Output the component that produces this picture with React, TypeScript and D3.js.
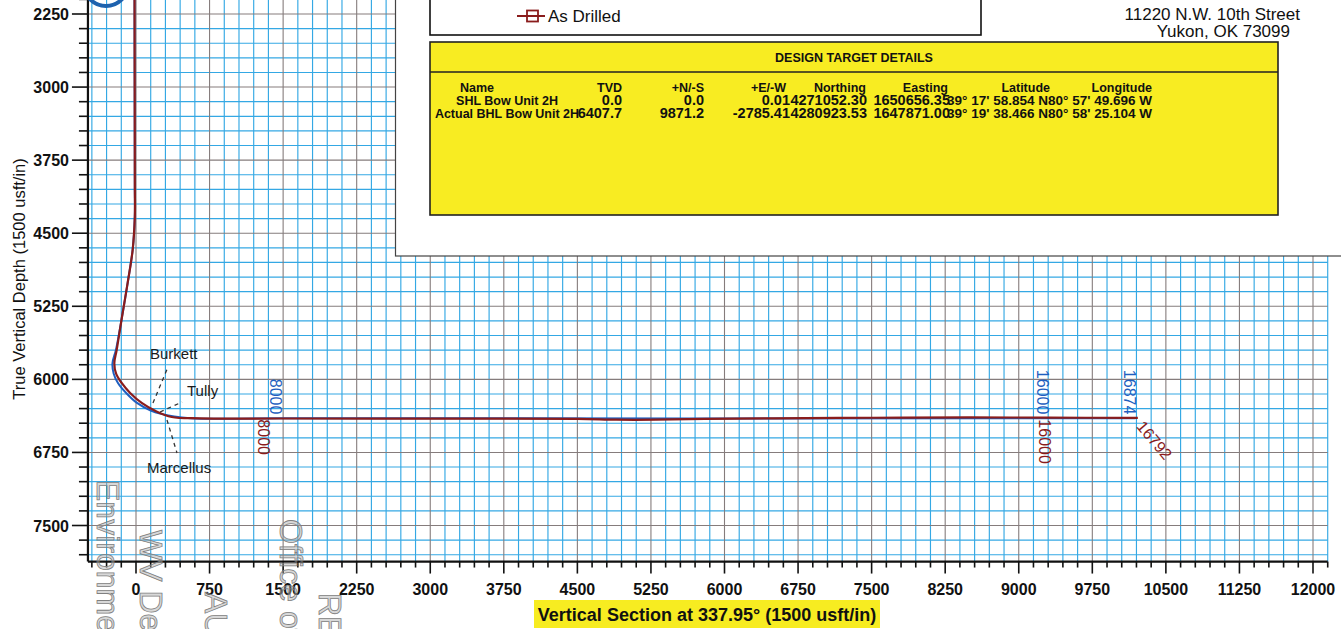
import React from 'react';
import * as d3 from 'd3';

const FONT = "'Liberation Sans', Arial, Helvetica, sans-serif";

// ---- axis ticks ----
const xTickValues = [0, 750, 1500, 2250, 3000, 3750, 4500, 5250, 6000, 6750, 7500, 8250, 9000, 9750, 10500, 11250, 12000];
const xTickLabels = ['0', '750', '1500', '2250', '3000', '3750', '4500', '5250', '6000', '6750', '7500', '8250', '9000', '9750', '10500', '11250', '12000'];
const yTickValues = [2250, 3000, 3750, 4500, 5250, 6000, 6750, 7500];
const yTickLabels = ['2250', '3000', '3750', '4500', '5250', '6000', '6750', '7500'];

// ---- well paths (Vertical Section, TVD) ----
const drilledVS = [-15, -12, -12, -34, -85, -143, -197, -221, -203, -146, -60, 58, 200, 364, 650, 1500, 3000, 4500, 4900, 5300, 5800, 6500, 7500, 8500, 9300, 10214];
const drilledTVD = [2000, 4000, 4330, 4670, 5010, 5360, 5700, 5835, 5940, 6037, 6140, 6242, 6325, 6386, 6400, 6402, 6403, 6405, 6414, 6414, 6406, 6400, 6394, 6390, 6393, 6395];
const planVS = [-15, -12, -12, -34, -85, -143, -203, -240, -228, -184, -100, 10, 150, 245, 550, 1500, 10190];
const planTVD = [2000, 4000, 4330, 4670, 5010, 5360, 5690, 5835, 5940, 6037, 6140, 6242, 6320, 6352, 6398, 6400, 6400];

// ---- formations ----
const formationNames = ['Burkett', 'Tully', 'Marcellus'];
const formationVS = [173, 245, 316];
const formationTVD = [6243, 6335, 6417];

// ---- MD annotations ----
const mdText = ['8000', '8000', '16000', '16000', '16874', '16792'];
const mdSeries = ['plan', 'drilled', 'plan', 'drilled', 'plan', 'drilledEnd'];
const mdVS = [1422, 1290, 9235, 9256, 10128, 10214];
const mdTVD = [6400, 6400, 6400, 6400, 6400, 6395];

// ---- design target table ----
const tableHeaders = ['Name', 'TVD', '+N/-S', '+E/-W', 'Northing', 'Easting', 'Latitude', 'Longitude'];
const targetNames = ['SHL Bow Unit 2H', 'Actual BHL Bow Unit 2H'];
const targetTVD = ['0.0', '6407.7'];
const targetNS = ['0.0', '9871.2'];
const targetEW = ['0.01', '-2785.41'];
const targetNorthing = ['4271052.30', '4280923.53'];
const targetEasting = ['1650656.35', '1647871.00'];
const targetLat = ["39° 17' 58.854 N", "39° 19' 38.466 N"];
const targetLon = ["80° 57' 49.696 W", "80° 58' 25.104 W"];

const addressLines = ['11220 N.W. 10th Street', 'Yukon, OK  73099'];
const stampLines = ['Environmental Protection', 'WV Department of', 'AUG', 'Office of Oil and Gas', 'RECEIVED'];

const W = 1341;
const H = 629;

export default function App() {
  const x = d3.scaleLinear().domain([0, 12000]).range([136, 1313]);
  const y = d3.scaleLinear().domain([2250, 7500]).range([14, 525.5]);
  const vsMin = -490, vsMax = 12150, tvdTop = 2100, tvdBottom = 7870;
  const left = x(vsMin), right = x(vsMax), top = y(tvdTop), bottom = y(tvdBottom);

  const minorX = d3.range(-450, vsMax + 1, 150);
  const minorY = d3.range(2100, tvdBottom, 150);
  const isMajor = (v: number) => Math.abs(v % 750) < 1e-6;

  const line = d3.line<[number, number]>()
    .x(d => x(d[0]))
    .y(d => y(d[1]))
    .curve(d3.curveCatmullRom.alpha(0.5));
  const drilled: [number, number][] = drilledVS.map((v, i) => [v, drilledTVD[i]]);
  const plan: [number, number][] = planVS.map((v, i) => [v, planTVD[i]]);

  const RED = '#8a1c1c';
  const BLUE = '#1f5fc0';
  const BLUE_GRID = '#34a8e4';
  const MAJOR_GRID = '#857c7c';

  // table column anchors
  const colNameX = 507;
  const colRight = [622, 704, 790, 867, 950, 1048, 1152];
  const headerRight = [622, 704, 786, 866, 948, 1050, 1152];
  const rowsY = [105, 118];
  const targetCols = [targetTVD, targetNS, targetEW, targetNorthing, targetEasting, targetLat, targetLon];
  const colFont = [14.5, 14.5, 14.5, 14.5, 14.5, 13.5, 13.5];

  // stamp positions
  const stampPos = [[97, 480], [140, 530], [205, 592], [280, 519], [319, 593]];

  return (
    <svg width={W} height={H} viewBox={`0 0 ${W} ${H}`}
      style={{ position: 'absolute', left: 0, top: 0, background: '#fff', fontFamily: FONT }}>
      <rect x={0} y={0} width={W} height={H} fill="#fff" />

      {/* grid */}
      <g>
        {minorX.filter(v => !isMajor(v)).map(v => (
          <line key={'gx' + v} x1={x(v)} x2={x(v)} y1={top} y2={bottom} stroke={BLUE_GRID} strokeWidth={1.15} />
        ))}
        {minorY.filter(v => !isMajor(v)).map(v => (
          <line key={'gy' + v} x1={left} x2={right} y1={y(v)} y2={y(v)} stroke={BLUE_GRID} strokeWidth={1.15} />
        ))}
        {minorX.filter(v => isMajor(v)).map(v => (
          <line key={'mx' + v} x1={x(v)} x2={x(v)} y1={top} y2={bottom} stroke={MAJOR_GRID} strokeWidth={1.1} />
        ))}
        {minorY.filter(v => isMajor(v)).map(v => (
          <line key={'my' + v} x1={left} x2={right} y1={y(v)} y2={y(v)} stroke={MAJOR_GRID} strokeWidth={1.1} />
        ))}
      </g>

      {/* axes */}
      <line x1={left} x2={left} y1={top - 2} y2={bottom} stroke="#111" strokeWidth={2.2} />
      <line x1={left} x2={right} y1={bottom} y2={bottom} stroke="#111" strokeWidth={2.2} />
      {minorX.map(v => (
        <line key={'tx' + v} x1={x(v)} x2={x(v)} y1={bottom} y2={bottom + (isMajor(v) ? 12 : 6)} stroke="#111" strokeWidth={1.6} />
      ))}
      {minorY.map(v => (
        <line key={'ty' + v} x1={left} x2={left - (isMajor(v) ? 16 : 9)} y1={y(v)} y2={y(v)} stroke="#111" strokeWidth={1.6} />
      ))}
      {xTickValues.map((v, i) => (
        <text key={'xl' + v} x={x(v)} y={bottom + 33} textAnchor="middle" fontSize={16} fontWeight="bold" fill="#111">{xTickLabels[i]}</text>
      ))}
      {yTickValues.map((v, i) => (
        <text key={'yl' + v} x={left - 19} y={y(v) + 6} textAnchor="end" fontSize={16} fontWeight="bold" fill="#111">{yTickLabels[i]}</text>
      ))}

      {/* axis titles */}
      <text transform={`translate(25, ${(150 + 408) / 2}) rotate(-90)`} textAnchor="middle" fontSize={16.5} fill="#111">True Vertical Depth (1500 usft/in)</text>
      <rect x={534} y={600} width={346} height={28} fill="#f7ec21" />
      <text x={707} y={621} textAnchor="middle" fontSize={18} fontWeight="bold" fill="#111">Vertical Section at 337.95° (1500 usft/in)</text>

      {/* well paths */}
      <path d={line(plan) || ''} fill="none" stroke={BLUE} strokeWidth={2} />
      <path d={line(drilled) || ''} fill="none" stroke={RED} strokeWidth={2.2} />

      {/* formations */}
      {formationNames.map((name, i) => {
        const px = x(formationVS[i]);
        const py = y(formationTVD[i]);
        const lead = [[15, -36], [22, -10], [10, 33]][i];
        const lab = [[-3, -44], [27, -16], [-20, 53]][i];
        return (
          <g key={name}>
            <line x1={px} y1={py} x2={px + lead[0]} y2={py + lead[1]} stroke="#333" strokeWidth={1.3} strokeDasharray="4,4" />
            <text x={px + lab[0]} y={py + lab[1]} fontSize={15} fill="#1a1a1a">{name}</text>
          </g>
        );
      })}

      {/* MD labels */}
      {mdText.map((t, i) => {
        const px = x(mdVS[i]);
        const py = y(mdTVD[i]);
        const s = mdSeries[i];
        if (s === 'plan') {
          return <text key={'md' + i} transform={`translate(${px - 5}, ${py - 4}) rotate(90)`} textAnchor="end" fontSize={16} fill={BLUE}>{t}</text>;
        }
        if (s === 'drilled') {
          return <text key={'md' + i} transform={`translate(${px - 5}, ${py + 1}) rotate(90)`} textAnchor="start" fontSize={16} fill={RED}>{t}</text>;
        }
        return <text key={'md' + i} transform={`translate(${px - 2}, ${py + 9}) rotate(50)`} textAnchor="start" fontSize={16} fill={RED}>{t}</text>;
      })}

      {/* logo arc */}
      <circle cx={106} cy={-16} r={22} fill="none" stroke="#1d62ae" strokeWidth={4} />

      {/* stamp watermark */}
      {stampLines.map((t, i) => (
        <text key={'st' + i} transform={`translate(${stampPos[i][0]}, ${stampPos[i][1]}) rotate(90)`} fontSize={32}
          fill="#a8a8a8" fillOpacity={0.45} stroke="#808080" strokeWidth={0.8}>{t}</text>
      ))}

      {/* legend / info panel */}
      <rect x={395.5} y={-10} width={960} height={266} fill="#fff" stroke="#444" strokeWidth={1.2} />
      <rect x={430} y={-10} width={551} height={45} fill="#fff" stroke="#111" strokeWidth={1.6} />
      <line x1={517} x2={545} y1={16} y2={16} stroke={RED} strokeWidth={2} />
      <rect x={527} y={10.5} width={11} height={11} fill="none" stroke={RED} strokeWidth={1.8} />
      <text x={548} y={22} fontSize={17} fill="#111">As Drilled</text>

      <rect x={430} y={42} width={848} height={173} fill="#f8ec22" stroke="#222" strokeWidth={1.6} />
      <line x1={430} x2={1278} y1={72} y2={72} stroke="#222" strokeWidth={1.6} />
      <text x={854} y={62} textAnchor="middle" fontSize={12.5} fontWeight="bold" fill="#111">DESIGN TARGET DETAILS</text>

      <g fontSize={12.5} fontWeight="bold" fill="#111">
        <text x={477} y={92} textAnchor="middle">{tableHeaders[0]}</text>
        {tableHeaders.slice(1).map((h, i) => (
          <text key={'h' + i} x={headerRight[i]} y={92} textAnchor="end">{h}</text>
        ))}
        {targetNames.map((n, r) => (
          <g key={'r' + r}>
            <text x={colNameX} y={rowsY[r]} textAnchor="middle">{n}</text>
            {targetCols.map((col, c) => (
              <text key={'c' + c} x={colRight[c]} y={rowsY[r]} textAnchor="end" fontSize={colFont[c]}>{col[r]}</text>
            ))}
          </g>
        ))}
      </g>

      {/* address */}
      <text x={1300} y={20} textAnchor="end" fontSize={17} fill="#111">{addressLines[0]}</text>
      <text x={1290} y={37} textAnchor="end" fontSize={17} fill="#111">{addressLines[1]}</text>
    </svg>
  );
}
